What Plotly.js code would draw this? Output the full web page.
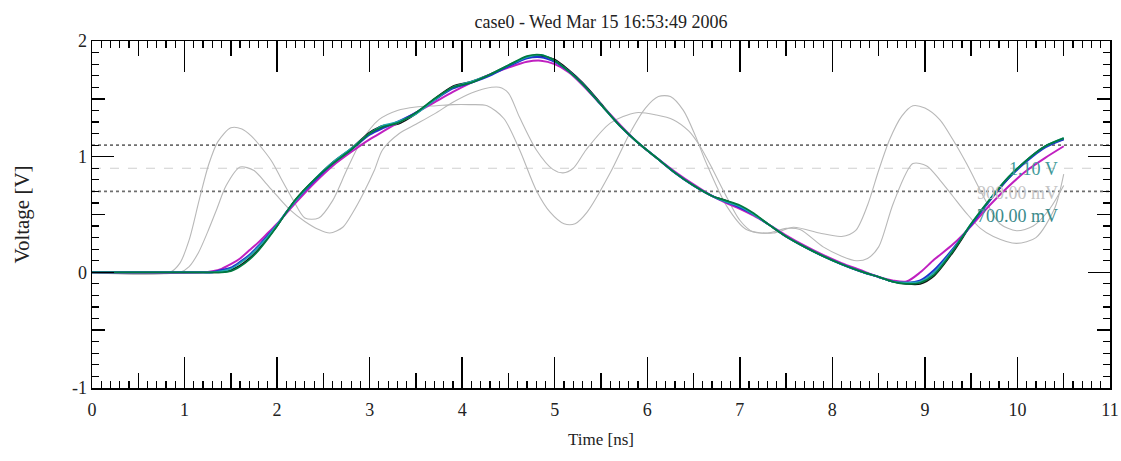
<!DOCTYPE html>
<html>
<head>
<meta charset="utf-8">
<script src="https://cdn.plot.ly/plotly-3.0.1.min.js"></script>
<style>
html,body{margin:0;padding:0;background:#fff;}
#chart{width:1121px;height:461px;}
</style>
</head>
<body>
<div id="chart"></div>
<script>
// ---- data ----
const titleText = "case0 - Wed Mar 15 16:53:49 2006";
const xTitle = "Time [ns]";
const yTitle = "Voltage [V]";

const tMain = [0, 1.2, 1.3, 1.4, 1.5, 1.6, 1.7, 1.8, 1.9, 2.0, 2.1, 2.2, 2.4, 2.6, 2.8, 3.0, 3.15, 3.3, 3.5, 3.7, 3.9, 4.1, 4.3, 4.5, 4.7, 4.85, 5.0, 5.15, 5.3, 5.5, 5.7, 5.9, 6.1, 6.3, 6.5, 6.7, 6.85, 7.0, 7.15, 7.3, 7.5, 7.7, 7.9, 8.1, 8.3, 8.5, 8.65, 8.8, 8.95, 9.1, 9.3, 9.5, 9.7, 9.9, 10.1, 10.3, 10.5];

const vGreen = [0, 0, 0, 0, 0.01, 0.05, 0.11, 0.19, 0.29, 0.40, 0.52, 0.63, 0.80, 0.94, 1.06, 1.20, 1.26, 1.29, 1.38, 1.50, 1.60, 1.64, 1.71, 1.79, 1.87, 1.88, 1.83, 1.74, 1.63, 1.45, 1.27, 1.12, 0.99, 0.86, 0.75, 0.66, 0.62, 0.58, 0.51, 0.42, 0.31, 0.22, 0.14, 0.07, 0.01, -0.04, -0.08, -0.10, -0.09, -0.02, 0.18, 0.42, 0.63, 0.82, 0.97, 1.09, 1.16];
const vBlack = [0, 0, 0, 0, 0.02, 0.06, 0.12, 0.20, 0.30, 0.40, 0.52, 0.63, 0.80, 0.95, 1.07, 1.21, 1.27, 1.28, 1.37, 1.50, 1.61, 1.65, 1.71, 1.79, 1.86, 1.87, 1.84, 1.75, 1.64, 1.46, 1.27, 1.12, 0.99, 0.86, 0.75, 0.66, 0.62, 0.57, 0.50, 0.42, 0.31, 0.22, 0.14, 0.07, 0.01, -0.04, -0.08, -0.10, -0.10, -0.03, 0.17, 0.41, 0.62, 0.81, 0.97, 1.09, 1.15];
const vBlue = [0, 0, 0, 0.02, 0.04, 0.09, 0.15, 0.23, 0.32, 0.41, 0.52, 0.62, 0.79, 0.94, 1.06, 1.19, 1.25, 1.30, 1.38, 1.49, 1.59, 1.64, 1.70, 1.78, 1.85, 1.86, 1.82, 1.74, 1.63, 1.45, 1.27, 1.12, 0.99, 0.86, 0.75, 0.66, 0.61, 0.56, 0.50, 0.42, 0.31, 0.22, 0.14, 0.07, 0.01, -0.04, -0.08, -0.09, -0.07, 0.02, 0.20, 0.41, 0.62, 0.81, 0.96, 1.08, 1.15];
const vTeal = [0, 0, 0, 0.01, 0.03, 0.08, 0.14, 0.22, 0.31, 0.41, 0.52, 0.62, 0.80, 0.95, 1.07, 1.20, 1.27, 1.30, 1.37, 1.49, 1.60, 1.65, 1.71, 1.79, 1.86, 1.88, 1.83, 1.74, 1.63, 1.45, 1.27, 1.12, 0.99, 0.86, 0.75, 0.66, 0.61, 0.57, 0.50, 0.42, 0.31, 0.22, 0.14, 0.07, 0.01, -0.04, -0.08, -0.09, -0.08, 0.00, 0.19, 0.42, 0.63, 0.82, 0.97, 1.09, 1.16];
const vMagenta = [0, 0, 0.01, 0.03, 0.07, 0.12, 0.19, 0.26, 0.34, 0.42, 0.51, 0.60, 0.77, 0.92, 1.04, 1.15, 1.22, 1.29, 1.38, 1.47, 1.56, 1.64, 1.71, 1.77, 1.82, 1.83, 1.80, 1.73, 1.62, 1.45, 1.28, 1.12, 0.99, 0.87, 0.76, 0.66, 0.60, 0.55, 0.49, 0.42, 0.32, 0.23, 0.15, 0.08, 0.02, -0.04, -0.07, -0.08, 0.00, 0.11, 0.24, 0.40, 0.58, 0.74, 0.88, 0.99, 1.09];

const tGrey1 = [0, 0.84, 0.95, 1.05, 1.16, 1.26, 1.36, 1.5, 1.62, 1.72, 1.85, 1.95, 2.05, 2.17, 2.3, 2.45, 2.6, 2.75, 2.9, 3.1, 3.3, 3.5, 3.72, 3.9, 4.08, 4.27, 4.45, 4.62, 4.8, 4.95, 5.1, 5.22, 5.35, 5.6, 5.81, 5.98, 6.12, 6.25, 6.39, 6.52, 6.64, 6.86, 7.07, 7.36, 7.58, 7.86, 8.1, 8.25, 8.38, 8.5, 8.62, 8.75, 8.87, 9.0, 9.16, 9.3, 9.45, 9.67, 9.81, 9.99, 10.17, 10.35, 10.5];
const vGrey1 = [0, 0, 0.08, 0.28, 0.63, 0.93, 1.13, 1.25, 1.24, 1.18, 1.06, 0.95, 0.80, 0.63, 0.47, 0.47, 0.62, 0.88, 1.12, 1.32, 1.40, 1.43, 1.44, 1.45, 1.45, 1.44, 1.33, 1.06, 0.71, 0.52, 0.42, 0.42, 0.52, 0.86, 1.20, 1.42, 1.52, 1.52, 1.40, 1.18, 0.94, 0.57, 0.37, 0.34, 0.39, 0.34, 0.31, 0.36, 0.58, 0.88, 1.15, 1.35, 1.44, 1.42, 1.32, 1.15, 0.94, 0.60, 0.42, 0.36, 0.40, 0.55, 0.75];

const tGrey2 = [0, 0.95, 1.05, 1.15, 1.25, 1.35, 1.45, 1.6, 1.75, 1.88, 2.0, 2.14, 2.3, 2.45, 2.57, 2.71, 2.82, 2.93, 3.05, 3.14, 3.32, 3.5, 3.7, 3.9, 4.1, 4.25, 4.4, 4.5, 4.62, 4.8, 4.98, 5.09, 5.2, 5.34, 5.6, 5.88, 6.1, 6.28, 6.45, 6.57, 6.7, 6.82, 7.0, 7.14, 7.3, 7.5, 7.65, 7.9, 8.1, 8.26, 8.38, 8.5, 8.66, 8.87, 9.02, 9.16, 9.3, 9.45, 9.6, 9.74, 9.99, 10.2, 10.4, 10.5];
const vGrey2 = [0, 0, 0.05, 0.17, 0.35, 0.55, 0.75, 0.91, 0.88, 0.77, 0.66, 0.54, 0.44, 0.37, 0.34, 0.39, 0.52, 0.68, 0.88, 1.06, 1.20, 1.28, 1.37, 1.47, 1.55, 1.59, 1.60, 1.55, 1.34, 1.06, 0.89, 0.86, 0.90, 1.06, 1.29, 1.38, 1.36, 1.32, 1.22, 1.09, 0.90, 0.71, 0.45, 0.35, 0.34, 0.38, 0.37, 0.22, 0.14, 0.10, 0.12, 0.22, 0.60, 0.94, 0.92, 0.80, 0.66, 0.51, 0.38, 0.31, 0.25, 0.30, 0.55, 0.85];

const refLevels = [1.1, 0.9, 0.7];
const refLabels = ["1.10 V", "900.00 mV", "700.00 mV"];
const refLabelX = 10.46;

const xTickVals = [0,1,2,3,4,5,6,7,8,9,10,11];
const yTickVals = [-1,0,1,2];
const xMidTicks = [0.5,1.5,2.5,3.5,4.5,5.5,6.5,7.5,8.5,9.5,10.5];
const yMidTicks = [-0.5,0.5,1.5];

// ---- chart ----
const serif = "Liberation Serif, Times New Roman, serif";
const traces = [];
function line(x, y, color, width, dash, shape) {
  return {x: x, y: y, mode: 'lines', type: 'scatter', hoverinfo: 'skip',
    line: {color: color, width: width, dash: dash || 'solid', shape: shape || 'spline', smoothing: 0.8}};
}
const refStyles = [
  {c: '#6e6e6e', d: 'dot', w: 1.6},
  {c: '#cfcfcf', d: 'dash', w: 1.2},
  {c: '#6e6e6e', d: 'dot', w: 1.6}
];
refLevels.forEach((lv, i) => {
  traces.push(line([0, 11], [lv, lv], refStyles[i].c, refStyles[i].w, refStyles[i].d, 'linear'));
});
traces.push(line(tGrey1, vGrey1, '#b8b8b8', 1.1));
traces.push(line(tGrey2, vGrey2, '#b8b8b8', 1.1));
traces.push(line(tMain, vBlack, '#101010', 1.6));
traces.push(line(tMain, vMagenta, '#c020c0', 2));
traces.push(line(tMain, vBlue, '#2030d0', 2));
traces.push(line(tMain, vTeal, '#20a8b0', 1.8));
traces.push(line(tMain, vGreen, '#007a40', 1.8));

const refColors = ['#3f9a9a', '#c4c4c4', '#3a8a8a'];
const annotations = refLevels.map((lv, i) => ({
  x: refLabelX, y: lv - 0.21, xref: 'x', yref: 'y', text: refLabels[i],
  showarrow: false, xanchor: 'right', yanchor: 'middle',
  font: {family: serif, size: 18, color: refColors[i]}
}));

const axisBase = {
  showgrid: false, zeroline: false, showline: true, linecolor: '#000', linewidth: 1.5,
  mirror: 'ticks', ticks: 'inside', tickcolor: '#000', tickwidth: 1.5
};

const layout = {
  width: 1121, height: 461,
  paper_bgcolor: '#fff', plot_bgcolor: '#fff',
  margin: {l: 92, r: 11, t: 41, b: 73},
  showlegend: false,
  title: {text: titleText, x: 0.5, xref: 'paper', xanchor: 'center', y: 0.953, yanchor: 'middle',
    font: {family: serif, size: 18, color: '#222'}},
  xaxis: Object.assign({}, axisBase, {
    range: [0, 11], tickvals: xTickVals, ticktext: xTickVals.map(String), ticklen: 31,
    minor: {dtick: 0.1, tick0: 0, ticklen: 7, ticks: 'inside', tickcolor: '#000', tickwidth: 1.2},
    tickfont: {family: serif, size: 18, color: '#222'}, ticklabelstandoff: 5,
    title: {text: xTitle, font: {family: serif, size: 17, color: '#222'}, standoff: 14}
  }),
  yaxis: Object.assign({}, axisBase, {
    range: [-1, 2], tickvals: yTickVals, ticktext: yTickVals.map(String), ticklen: 22,
    minor: {dtick: 0.1, tick0: 0, ticklen: 7, ticks: 'inside', tickcolor: '#000', tickwidth: 1.2},
    tickfont: {family: serif, size: 18, color: '#222'},
    title: {text: yTitle, font: {family: serif, size: 21, color: '#222'}, standoff: 36}
  }),
  xaxis2: {overlaying: 'x', anchor: 'y', side: 'bottom', range: [0, 11], showgrid: false, zeroline: false,
    showline: false, tickvals: xMidTicks, ticks: 'inside', ticklen: 15, tickwidth: 1.5, tickcolor: '#000',
    showticklabels: false, mirror: 'ticks'},
  yaxis2: {overlaying: 'y', anchor: 'x', side: 'left', range: [-1, 2], showgrid: false, zeroline: false,
    showline: false, tickvals: yMidTicks, ticks: 'inside', ticklen: 13, tickwidth: 1.5, tickcolor: '#000',
    showticklabels: false, mirror: 'ticks'},
  annotations: annotations
};
traces.push({x: [0], y: [0], xaxis: 'x2', yaxis: 'y2', mode: 'markers', marker: {opacity: 0}, hoverinfo: 'skip'});

Plotly.newPlot('chart', traces, layout, {staticPlot: true, displayModeBar: false});
</script>
</body>
</html>
